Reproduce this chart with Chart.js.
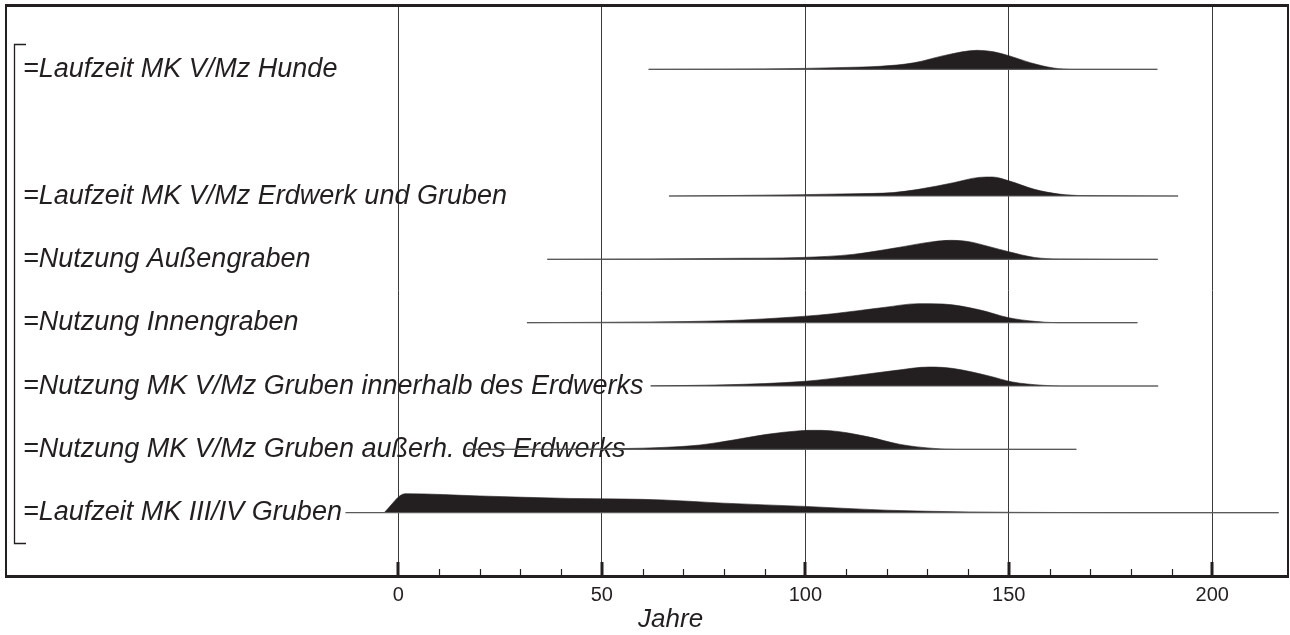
<!DOCTYPE html>
<html>
<head>
<meta charset="utf-8">
<script src="https://cdn.jsdelivr.net/npm/chart.js@4/dist/chart.umd.min.js"></script>
<style>
  html, body { margin: 0; padding: 0; background: #ffffff; }
  #wrap { width: 1290px; height: 635px; position: relative; }
</style>
</head>
<body>
<div id="wrap"><canvas id="c" width="1290" height="635"></canvas></div>
<script>
// ---------- data ----------
const categories = [
  '=Laufzeit MK V/Mz Hunde',
  '=Laufzeit MK V/Mz Erdwerk und Gruben',
  '=Nutzung Außengraben',
  '=Nutzung Innengraben',
  '=Nutzung MK V/Mz Gruben innerhalb des Erdwerks',
  '=Nutzung MK V/Mz Gruben außerh. des Erdwerks',
  '=Laufzeit MK III/IV Gruben'
];
const rowSlots = [7, 5, 4, 3, 2, 1, 0];
const lineStart = [61.5, 66.5, 36.6, 31.6, 62, 17, -13];
const lineEnd   = [186.5, 191.6, 186.6, 181.6, 186.7, 166.6, 216.3];

const yearsHunde = [61.5, 80, 100, 110, 118.4, 126.6, 134.8, 142.2, 146.3, 150, 155.3, 161, 166, 186.5];
const probHunde  = [0, 0.01, 0.05, 0.1, 0.16, 0.34, 0.76, 1.0, 0.92, 0.72, 0.35, 0.07, 0, 0];

const yearsErdwerk = [66.5, 80, 99.3, 112, 121.6, 127.8, 136.4, 142.7, 146, 150, 156.3, 162.4, 168.6, 191.6];
const probErdwerk  = [0, 0.02, 0.07, 0.12, 0.18, 0.35, 0.7, 0.98, 1.0, 0.8, 0.35, 0.1, 0.02, 0];

const yearsAussen = [36.6, 62, 80, 99.3, 111.7, 121.6, 131.4, 135.5, 140.2, 145, 150, 156.3, 162.4, 186.6];
const probAussen  = [0, 0.02, 0.05, 0.1, 0.26, 0.58, 0.93, 1.0, 0.93, 0.68, 0.4, 0.1, 0.02, 0];

const yearsInnen = [31.6, 50, 62, 80, 99.3, 106.8, 119.2, 127.8, 133.9, 142.7, 150, 156.3, 162, 181.6];
const probInnen  = [0, 0.02, 0.04, 0.1, 0.33, 0.47, 0.8, 1.0, 0.98, 0.68, 0.26, 0.07, 0, 0];

const yearsInnerhalb = [62, 80, 100, 111.6, 121.8, 130.5, 136.4, 145.1, 150.9, 158.2, 163, 186.7];
const probInnerhalb  = [0.01, 0.06, 0.25, 0.53, 0.81, 1.0, 0.92, 0.53, 0.21, 0.04, 0, 0];

const yearsAusserh = [17, 40, 55, 65, 74.2, 82.3, 90.6, 98.8, 102, 106.1, 115.2, 123.3, 131.5, 137, 166.6];
const probAusserh  = [0, 0.01, 0.04, 0.1, 0.23, 0.49, 0.79, 0.98, 1.0, 0.98, 0.67, 0.26, 0.05, 0, 0];

const yearsMK34 = [-3.5, 1.7, 20, 42, 55, 65, 80, 100, 120, 140, 160, 180, 216.3];
const probMK34  = [0, 1.0, 0.88, 0.75, 0.72, 0.67, 0.5, 0.33, 0.13, 0.04, 0.01, 0, 0];

const xTickValues = [0, 50, 100, 150, 200];
const axisTitle = 'Jahre';

// ---------- build ----------
const seriesYears = [yearsHunde, yearsErdwerk, yearsAussen, yearsInnen, yearsInnerhalb, yearsAusserh, yearsMK34];
const seriesProb  = [probHunde, probErdwerk, probAussen, probInnen, probInnerhalb, probAusserh, probMK34];
const RIDGE = 0.3;
const INK = '#231f20';

const datasets = [];
categories.forEach((name, i) => {
  const slot = rowSlots[i];
  datasets.push({
    label: name + ' (Basis)',
    data: [{x: lineStart[i], y: slot}, {x: lineEnd[i], y: slot}],
    borderColor: '#5a5a5a',
    borderWidth: 1.1,
    pointRadius: 0,
    fill: false,
    order: 0
  });
  datasets.push({
    label: name,
    data: seriesYears[i].map((x, j) => ({x: x, y: slot + seriesProb[i][j] * RIDGE})),
    borderColor: INK,
    borderWidth: 0.6,
    backgroundColor: INK,
    pointRadius: 0,
    cubicInterpolationMode: 'monotone',
    fill: {value: slot},
    order: 1
  });
});

const decor = {
  id: 'decor',
  afterDraw(chart) {
    const {ctx, chartArea: a, scales: {x, y}} = chart;
    ctx.save();
    ctx.strokeStyle = INK;
    // top and right frame
    ctx.lineWidth = 3;
    ctx.beginPath(); ctx.moveTo(a.left - 1, a.top - 0.5); ctx.lineTo(a.right + 1, a.top - 0.5); ctx.stroke();
    ctx.lineWidth = 2;
    ctx.beginPath(); ctx.moveTo(a.right, a.top); ctx.lineTo(a.right, a.bottom); ctx.stroke();
    // tick marks inside the plot
    x.ticks.forEach(t => {
      const v = t.value;
      if (v < 0 || Math.abs(v - Math.round(v / 10) * 10) > 1e-6) return;
      const px = Math.round(x.getPixelForValue(v));
      const major = Math.abs(v % 50) < 1e-6;
      ctx.lineWidth = major ? 3 : 1.2;
      ctx.beginPath();
      ctx.moveTo(px + (major ? 0 : 0.5), a.bottom);
      ctx.lineTo(px + (major ? 0 : 0.5), a.bottom - (major ? 14 : 7));
      ctx.stroke();
    });
    // bracket
    const bt = Math.round(y.getPixelForValue(7.4)) + 0.5;
    const bb = Math.round(y.getPixelForValue(-0.48)) + 0.5;
    ctx.lineWidth = 1.3;
    ctx.beginPath();
    ctx.moveTo(a.left + 20, bt); ctx.lineTo(a.left + 8.5, bt);
    ctx.lineTo(a.left + 8.5, bb); ctx.lineTo(a.left + 20, bb);
    ctx.stroke();
    // axis title
    ctx.fillStyle = INK;
    ctx.font = 'italic 26px "Liberation Sans", Arial, sans-serif';
    ctx.textAlign = 'center';
    ctx.textBaseline = 'alphabetic';
    ctx.fillText(axisTitle, x.getPixelForValue(66.9), 627);
    ctx.restore();
  }
};

new Chart(document.getElementById('c'), {
  type: 'line',
  data: {datasets},
  options: {
    responsive: false,
    animation: false,
    devicePixelRatio: 1,
    layout: {padding: {left: 6, right: 2, top: 6, bottom: 0}},
    plugins: {legend: {display: false}, tooltip: {enabled: false}},
    scales: {
      x: {
        type: 'linear',
        min: -96.4,
        max: 218.6,
        afterFit(s) { s.height = 59; s.paddingLeft = 0; s.paddingRight = 0; },
        ticks: {
          stepSize: 10,
          autoSkip: false,
          maxRotation: 0,
          padding: 7,
          color: INK,
          font: {family: '"Liberation Sans", Arial, sans-serif', size: 20},
          callback: (v) => xTickValues.includes(v) ? String(v) : ''
        },
        grid: {
          drawTicks: false,
          lineWidth: 1,
          color: (c) => (c.tick && xTickValues.includes(c.tick.value)) ? '#3a3a3a' : 'rgba(0,0,0,0)'
        },
        border: {display: true, color: INK, width: 3}
      },
      y: {
        type: 'linear',
        min: -1,
        max: 8,
        afterFit(s) { s.width = 0; s.paddingTop = 0; s.paddingBottom = 0; },
        ticks: {
          stepSize: 1,
          mirror: true,
          padding: 17,
          color: INK,
          font: {family: '"Liberation Sans", Arial, sans-serif', size: 27, style: 'italic'},
          callback: (v) => { const i = rowSlots.indexOf(v); return i >= 0 ? categories[i] : ''; }
        },
        grid: {display: false},
        border: {display: true, color: INK, width: 2}
      }
    }
  },
  plugins: [decor]
});
</script>
</body>
</html>
